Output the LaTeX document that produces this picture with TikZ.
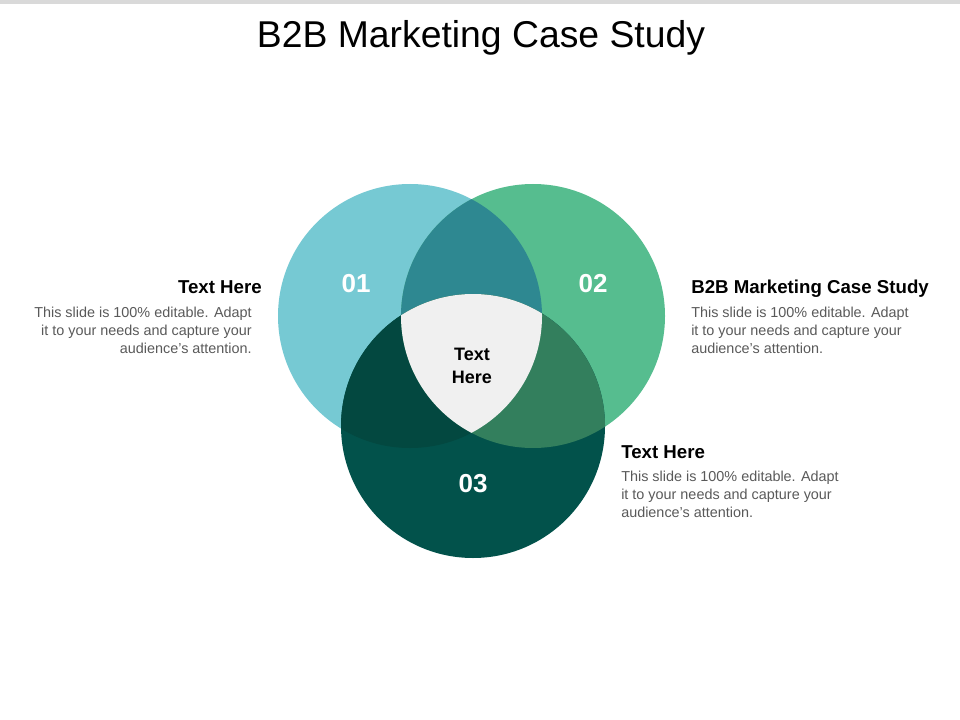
\documentclass[tikz,border=0pt]{standalone}
\usepackage{fontspec}
\setmainfont{Liberation Sans}
\usetikzlibrary{positioning}
\definecolor{barGray}{HTML}{D9D9D9}
\definecolor{oneTeal}{HTML}{76C9D3}
\definecolor{twoGreen}{HTML}{56BD8F}
\definecolor{threeDark}{HTML}{02524B}
\definecolor{oneTwo}{HTML}{2E8891}
\definecolor{oneThree}{HTML}{034840}
\definecolor{twoThree}{HTML}{337F5D}
\definecolor{coreGray}{HTML}{F0F0F0}
\definecolor{bodyGray}{HTML}{595959}
\tikzset{
    head/.style={font=\fontsize{14}{16}\selectfont\bfseries, inner sep=0pt},
    body/.style={font=\fontsize{10.8}{13.5}\selectfont, text=bodyGray, inner sep=0pt},
    num/.style={font=\fontsize{19.5}{22}\selectfont\bfseries, text=white}
}

\begin{document}
\begin{tikzpicture}[x=0.75pt,y=-0.75pt]
\useasboundingbox (0,0) rectangle (960,720);
\fill[barGray] (0,0) rectangle (960,4);
\node[font=\fontsize{28}{31}\selectfont] (title) at (481,38) {B2B Marketing Case Study};

\coordinate (c1) at (410,316);
\coordinate (c2) at (533,316);
\coordinate (c3) at (473,426);
\fill[oneTeal] (c1) circle[radius=99pt];
\fill[twoGreen] (c2) circle[radius=99pt];
\fill[threeDark] (c3) circle[radius=99pt];
\foreach \a/\b/\col in {c1/c2/oneTwo, c1/c3/oneThree, c2/c3/twoThree} {
    \begin{scope}
    \clip (\a) circle[radius=99pt];
    \fill[\col] (\b) circle[radius=99pt];
    \end{scope}
}
\begin{scope}
\clip (c1) circle[radius=99pt];
\clip (c2) circle[radius=99pt];
\fill[coreGray] (c3) circle[radius=99pt];
\end{scope}

\node[num] (n1) at (356,284) {01};
\node[num] (n2) at (593,284) {02};
\node[num] (n3) at (473,484) {03};
\node[font=\fontsize{13.5}{17}\selectfont\bfseries, align=center] (core) at (472,366) {Text\\Here};

% left
\node[head, anchor=base east] (h1) at (262,294) {Text Here};
\node[body, align=right, anchor=north east] (b1) at (252,307) {This slide is 100\% editable. Adapt\\it to your needs and capture your\\audience's attention.};
% right
\node[head, anchor=base west] (h2) at (691,294) {B2B Marketing Case Study};
\node[body, align=left, anchor=north west] (b2) at (691,307) {This slide is 100\% editable. Adapt\\it to your needs and capture your\\audience's attention.};
% bottom
\node[head, anchor=base west] (h3) at (621,458) {Text Here};
\node[body, align=left, anchor=north west] (b3) at (621,471) {This slide is 100\% editable. Adapt\\it to your needs and capture your\\audience's attention.};
\end{tikzpicture}
\end{document}
